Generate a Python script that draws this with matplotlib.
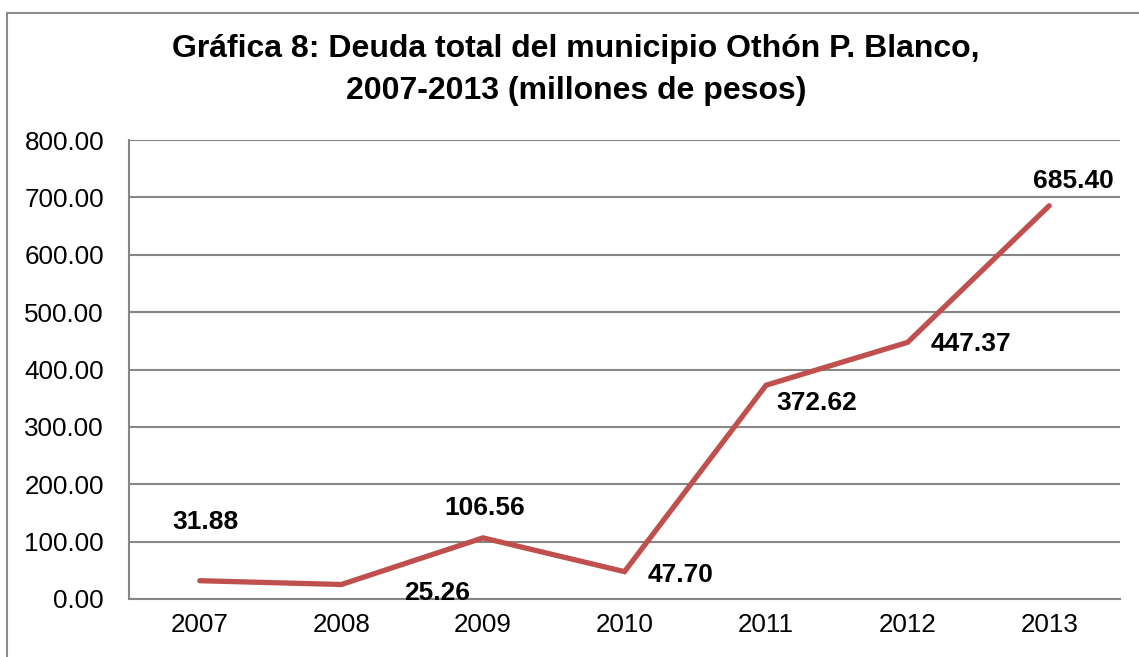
import matplotlib
matplotlib.use("Agg")
import matplotlib.pyplot as plt
from matplotlib.patches import Rectangle

YEARS = ["2007", "2008", "2009", "2010", "2011", "2012", "2013"]
DEBT = [31.88, 25.26, 106.56, 47.70, 372.62, 447.37, 685.40]
# label offsets in pixels relative to each point
LABEL_OFFSETS = [(6, 59), (96, -8), (2, 30), (56, -3), (51, -18), (63, -2), (24, 25)]
Y_TICKS = [0, 100, 200, 300, 400, 500, 600, 700, 800]

LINE_COLOR = "#C0504D"
GRID_COLOR = "#868686"

plt.rcParams["font.family"] = ["Liberation Sans", "DejaVu Sans"]

fig = plt.figure(figsize=(11.39, 6.57), dpi=100)
ax = fig.add_axes([129 / 1139, 1 - 599 / 657, (1120 - 129) / 1139, (599 - 140) / 657])

# outer chart border (runs off the right and bottom edge)
fig.patches.append(Rectangle((7 / 1139, -0.1), 1.2, 1 - 13 / 657 + 0.1,
                             transform=fig.transFigure, fill=False,
                             edgecolor="#8c8c8c", linewidth=1.5, clip_on=False))

x = list(range(len(YEARS)))
ax.plot(x, DEBT, color=LINE_COLOR, linewidth=3.8, solid_capstyle="round",
        solid_joinstyle="miter", zorder=3)

for xi, v, (dx, dy) in zip(x, DEBT, LABEL_OFFSETS):
    ax.annotate(f"{v:.2f}", (xi, v), xytext=(dx, dy), textcoords="offset pixels",
                ha="center", va="center", fontsize=19, fontweight="bold")

ax.set_xlim(-0.5, len(YEARS) - 0.5)
ax.set_ylim(0, 800)
ax.set_yticks(Y_TICKS)
ax.set_yticklabels([f"{t:.2f}" for t in Y_TICKS], fontsize=18.7)
ax.set_xticks(x)
ax.set_xticklabels(YEARS, fontsize=18.7)
ax.tick_params(length=0, pad=10)
ax.tick_params(axis="y", pad=18)

ax.grid(axis="y", color=GRID_COLOR, linewidth=1.5)
ax.set_axisbelow(True)
for side in ["top", "right"]:
    ax.spines[side].set_visible(False)
for side in ["left", "bottom"]:
    ax.spines[side].set_color(GRID_COLOR)
    ax.spines[side].set_linewidth(1.5)

fig.text(576 / 1139, 1 - 70 / 657,
         "Gráfica 8: Deuda total del municipio Othón P. Blanco,\n2007-2013 (millones de pesos)",
         ha="center", va="center", fontsize=23, fontweight="bold", linespacing=1.48)

fig.savefig("out.png", dpi=100)
